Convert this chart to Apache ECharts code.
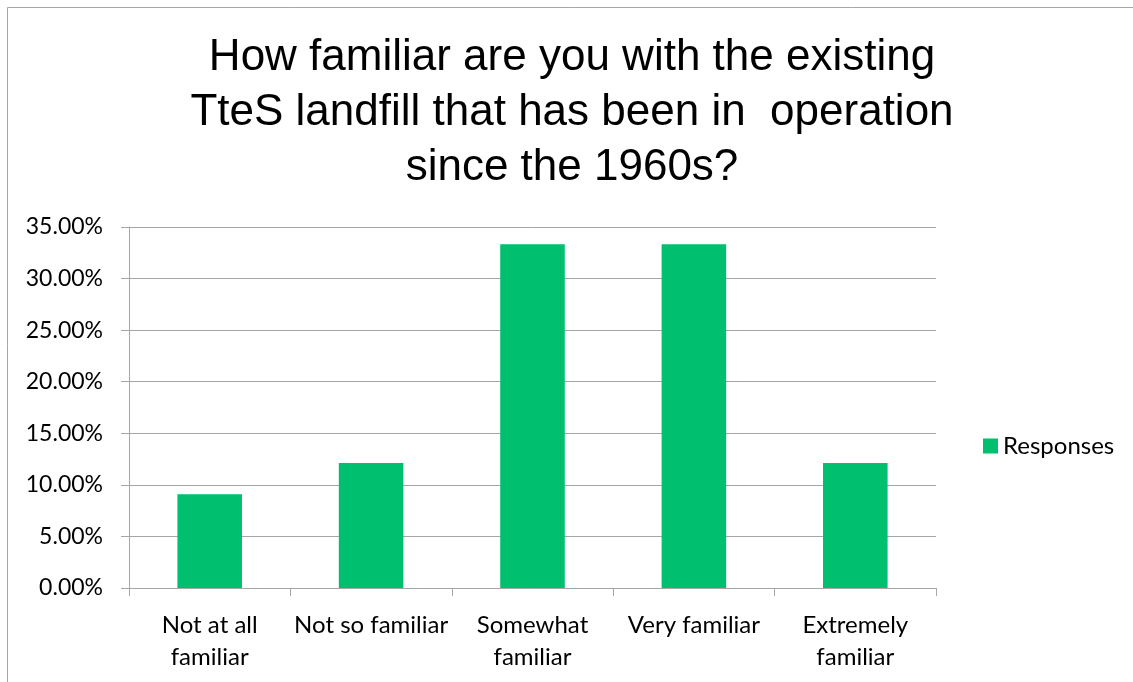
<!DOCTYPE html>
<html><head><meta charset="utf-8">
<script src="https://cdn.jsdelivr.net/npm/echarts@6/dist/echarts.min.js"></script>
<style>html,body{margin:0;padding:0;background:#fff}#c{width:1133px;height:682px}</style>
</head><body><div id="c"></div>
<script>
const categories = ['Not at all\nfamiliar', 'Not so familiar', 'Somewhat\nfamiliar', 'Very familiar', 'Extremely\nfamiliar'];
const responses = [9.09, 12.12, 33.33, 33.33, 12.12];
const seriesName = 'Responses';
const titleText = 'How familiar are you with the existing\nTteS landfill that has been in  operation\nsince the 1960s?';

const chart = echarts.init(document.getElementById('c'));
chart.setOption({
  animation: false,
  backgroundColor: '#fff',
  legend: {
    data: [seriesName], orient: 'vertical', left: 978, top: 429,
    icon: 'rect', itemWidth: 15, itemHeight: 15, itemGap: 8,
    textStyle: { fontFamily: 'Lato', fontSize: 24, color: '#000', padding: [0, 0, 0, 0] }
  },
  grid: { left: 129, right: 197, top: 227, bottom: 94, containLabel: false },
  xAxis: {
    type: 'category', data: categories,
    axisLine: { lineStyle: { color: '#A6A6A6', width: 1 } },
    axisTick: { show: true, length: 8, lineStyle: { color: '#A6A6A6' } },
    axisLabel: { fontFamily: 'Lato', fontSize: 24, color: '#000', lineHeight: 32, margin: 21, interval: 0 }
  },
  yAxis: {
    type: 'value', min: 0, max: 35, interval: 5,
    axisLine: { show: true, lineStyle: { color: '#A6A6A6' } },
    axisTick: { show: true, length: 8, lineStyle: { color: '#A6A6A6' } },
    splitLine: { lineStyle: { color: '#A6A6A6' } },
    axisLabel: { fontFamily: 'Lato', fontSize: 23, color: '#000', margin: 26, formatter: v => v.toFixed(2) + '%' }
  },
  series: [{
    name: seriesName, type: 'bar', data: responses, barWidth: '40%',
    itemStyle: { color: '#00BF6F' }
  }],
  graphic: [
    { type: 'line', shape: { x1: 7.5, y1: 7.5, x2: 1133, y2: 7.5 }, style: { stroke: '#A6A6A6', lineWidth: 1 } },
    { type: 'line', shape: { x1: 7.5, y1: 7.5, x2: 7.5, y2: 682 }, style: { stroke: '#A6A6A6', lineWidth: 1 } },
    { type: 'text', x: 572, y: 113, style: {
        text: titleText, align: 'center', verticalAlign: 'middle', fontFamily: 'Liberation Sans', fontSize: 44, lineHeight: 55, fill: '#000'
    } }
  ]
});
</script></body></html>
